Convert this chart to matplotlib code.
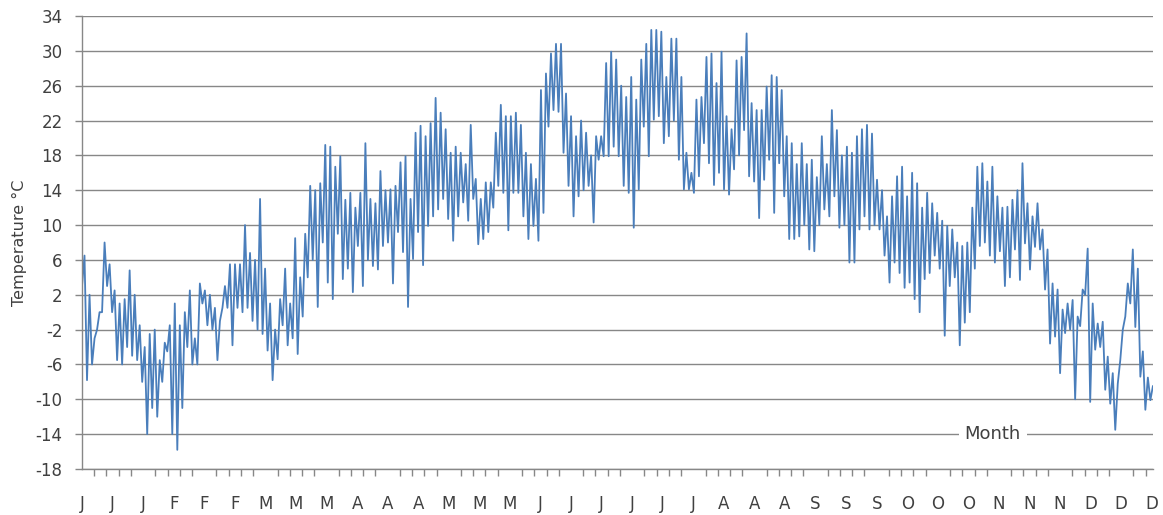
import numpy as np
import matplotlib
matplotlib.use("Agg")
import matplotlib.pyplot as plt
from matplotlib.ticker import MultipleLocator

plt.rcParams["axes.unicode_minus"] = False

# Hourly temperature over one year, read off the picture as the lowest and
# highest value inside each ~41 hour slice (one slice = 5 px of the original)
temp_low = [
    3, -7.8, -6, -2, 0, 3, 0, -5.5, -6, -4, -5, -5.5, -8, -14, -11, -12, -8, -4.5, -14, -15.8,
    -11, -4, -6, -6, 1, -1.5, -2, -5.5, 0.5, 0.5, -3.8,
    0.5, 0, 0.5, -1, -2, -2.5, -4.4, -7.8, -5.4, -1.5, -3.8, -3, -4.8, -0.5, 4, 6, 0.6, 8, 3.4,
    1.5, 9, 3.8, 5, 2.3, 7.6, 3, 6, 5.3, 4.9, 7.6,
    8, 3.3, 9.2, 6.9, 0.6, 6.1, 9.2, 5.4, 9.9, 11, 11.8, 13, 10.7, 8.2, 11, 12.6, 10.5, 13, 7.8,
    8.4, 9.2, 12, 14.5, 13.7, 9.4, 13.7, 13.7, 11, 8.4, 9.9, 8.2,
    11.4, 21.3, 23.2, 23, 18.3, 14.5, 11, 13.3, 14, 14.5, 10.3, 17.5, 17.9, 17.9, 19, 17.9, 14.5,
    13.7, 9.7, 14.1, 21.3, 17.9, 22.1, 22.5, 19.4, 20.2, 22, 17.5, 14.1, 14.1, 13.7,
    15.6, 19.4, 17.1, 14.6, 16, 14.1, 13.5, 16.4, 18, 20.9, 15.6, 15, 10.8, 15.2, 17.5, 11.4, 17.1,
    13.3, 8.4, 8.4, 8.7, 10, 7.2, 7, 10, 11.8, 11, 13.3, 9.7, 10, 5.7,
    5.7, 9.5, 11, 9.5, 10, 9.5, 6.5, 3.4, 5.7, 4.5, 2.8, 3.4, 1.5, 0, 3.8, 4.5, 6.5, 5, -2.7, 3,
    4, -3.8, -1.2, 0, 5, 7.6, 8, 6.5, 5.7, 7,
    3, 4, 7.2, 3.7, 7.9, 4.9, 7.5, 7.2, 2.6, -3.6, -2.8, -7, -2.4, -2, -10, -1.6, 2, -10.3, -4.3,
    -4, -8.9, -10.5, -13.5, -5.5, -0.5, 1, -1.7, -7.4, -11.2, -10.1,
]
temp_high = [
    6.5, 2, -3, 0, 8, 5.5, 2.5, 1, 1.5, 4.8, 2, -1.5, -4, -2.5, -2, -5.5, -3.5, -1.5, 1, -1.5,
    0, 2.5, -3, 3.3, 2.5, 2, 0.5, -1, 3, 5.5, 5.5,
    5.5, 10, 6.8, 6, 13, 5, 1, -2, 1.5, 5, 1, 8.5, 4, 9, 14.5, 14, 14.8, 19.2, 19,
    16.7, 17.9, 12.9, 13.7, 12, 13.7, 19.4, 13, 12.5, 16.2, 14,
    14.1, 14.5, 17.2, 17.9, 13, 20.6, 21.4, 20.2, 21.7, 24.6, 22.9, 21, 18.3, 19, 18.3, 17, 21.5,
    15.3, 13, 14.9, 14.9, 20.6, 23.8, 22.5, 22.5, 22.9, 21.5, 18.3, 17, 15.3, 25.5,
    27.4, 29.7, 30.8, 30.8, 25.1, 22.5, 20.2, 22, 20.6, 18, 20.2, 20.2, 28.6, 29.9, 29, 26, 24.7,
    27, 24.4, 29, 30.8, 32.4, 32.4, 32.2, 27, 31.4, 31.4, 27, 18.3, 16, 24.4,
    24.7, 29.3, 29.7, 26.3, 29.9, 22.5, 21, 28.9, 29.3, 32, 24, 23.2, 23.2, 25.9, 27.2, 27, 25.5,
    20.2, 19.4, 17, 19.4, 17, 17.5, 15.5, 20.2, 17, 23.2, 20.9, 18, 19, 18.3,
    20.2, 21, 21.5, 20.5, 15.2, 14, 11, 13.3, 15.6, 16.7, 13.3, 16, 14.8, 12, 13.7, 12.5, 11.4,
    10.5, 9.9, 9.5, 8, 7.6, 8, 12, 16.7, 17.1, 15, 16.7, 13.3, 12,
    12.1, 12.9, 14, 17.1, 12.5, 11, 12.5, 9.5, 7.2, 3.3, 2.6, 0.3, 1, 1.4, -0.5, 2.6, 7.3, 1,
    -1.3, -1.1, -5.1, -7, -8.2, -2, 3.3, 7.2, 5, -4.5, -7.5, -8.5,
]

# category labels along the x axis, one every 250 hours
month_labels = ["J", "J", "J", "F", "F", "F", "M", "M", "M", "A", "A", "A",
                "M", "M", "M", "J", "J", "J", "J", "J", "J", "A", "A", "A",
                "S", "S", "S", "O", "O", "O", "N", "N", "N", "D", "D", "D"]
hours_in_year = 8760

# interleave low / high so the line swings like the hourly trace
temps = np.column_stack([temp_low, temp_high]).ravel()
hours = np.linspace(0, hours_in_year - 1, len(temps))

grey = "#878787"
text_col = "#404040"

fig = plt.figure(figsize=(11.63, 5.15), dpi=100)
ax = fig.add_axes([82 / 1163, 1 - 469 / 515, (1153 - 82) / 1163, (469 - 16) / 515])

ax.plot(hours, temps, color="#4A7EBB", lw=1.3)

ax.set_xlim(0, hours_in_year)
ax.set_ylim(-18, 34)
ax.set_yticks(np.arange(-18, 35, 4))
ax.yaxis.grid(True, color=grey, lw=1.0)
ax.set_axisbelow(True)

ax.set_xticks(np.arange(len(month_labels)) * 250)
ax.set_xticklabels(month_labels)
ax.xaxis.set_minor_locator(MultipleLocator(100))
ax.tick_params(axis="x", which="major", length=0, pad=19, labelsize=12, labelcolor=text_col)
ax.tick_params(axis="x", which="minor", length=5, width=1, color=grey, direction="out")
ax.tick_params(axis="y", length=5, width=1, color=grey, pad=9, labelsize=12, labelcolor=text_col)

for side in ["top", "right"]:
    ax.spines[side].set_visible(False)
for side in ["left", "bottom"]:
    ax.spines[side].set_color(grey)
    ax.spines[side].set_linewidth(1.0)

ax.set_ylabel("Temperature °C", fontsize=11.5, color=text_col, labelpad=6)
ax.text(7450, -14, "Month", fontsize=13, color=text_col, ha="center", va="center",
        bbox=dict(facecolor="white", edgecolor="none", pad=4))

fig.savefig("out.png", dpi=100)
